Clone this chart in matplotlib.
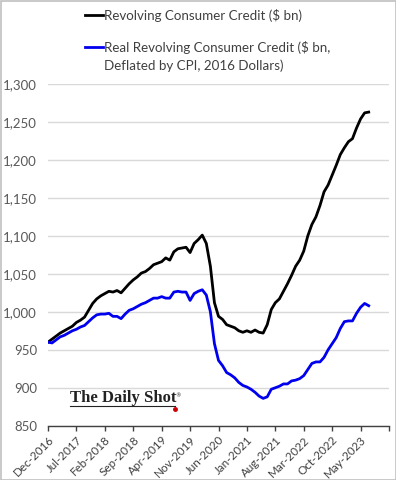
import matplotlib
matplotlib.use("Agg")
import matplotlib.pyplot as plt
import numpy as np
from matplotlib.patches import Rectangle
from matplotlib.lines import Line2D
from matplotlib.transforms import ScaledTranslation

# Monthly data, Dec-2016 .. Jul-2023
start_year, start_month = 2016, 12
nominal = [960, 964, 968, 972, 975, 978, 981, 986, 989, 993,
           1002, 1011, 1017, 1021, 1024, 1027, 1026, 1028, 1025, 1031,
           1037, 1042, 1046, 1051, 1053, 1057, 1062, 1064, 1066, 1071,
           1068, 1079, 1083, 1084, 1085, 1078, 1090, 1095, 1101, 1090,
           1060, 1012, 994, 990, 983, 981, 979, 975, 973, 975,
           973, 976, 973, 972, 983, 1003, 1012, 1017, 1027, 1037,
           1048, 1060, 1068, 1080, 1100, 1115, 1125, 1140, 1158, 1167,
           1180, 1193, 1207, 1216, 1224, 1228, 1242, 1254, 1262, 1263]
real = [960, 959, 963, 967, 969, 972, 975, 977, 980, 982,
        987, 992, 996, 997, 997, 998, 994, 994, 991, 997,
        1002, 1004, 1007, 1010, 1012, 1015, 1018, 1018, 1020, 1018,
        1018, 1026, 1027, 1026, 1026, 1015, 1024, 1027, 1029, 1022,
        1000, 958, 936, 929, 920, 917, 913, 907, 903, 901,
        898, 894, 889, 886, 888, 898, 900, 902, 905, 905,
        909, 910, 912, 916, 924, 932, 934, 934, 940, 950,
        958, 966, 978, 987, 988, 988, 998, 1006, 1011, 1008]
tick_labels = ["Dec-2016", "Jul-2017", "Feb-2018", "Sep-2018", "Apr-2019",
               "Nov-2019", "Jun-2020", "Jan-2021", "Aug-2021", "Mar-2022",
               "Oct-2022", "May-2023", ""]
y_ticks = [850, 900, 950, 1000, 1050, 1100, 1150, 1200, 1250, 1300]
label_nominal = "Revolving Consumer Credit ($ bn)"
label_real_1 = "Real Revolving Consumer Credit ($ bn,"
label_real_2 = "Deflated by CPI, 2016 Dollars)"

months = np.arange(len(nominal))
W, H = 396, 480

def fx(px):
    return px / W

def fy(py):
    return 1 - py / H

fig = plt.figure(figsize=(W / 100, H / 100), dpi=100)
ax = fig.add_axes([fx(48), fy(425.7), (389 - 48) / W, (425.7 - 84) / H])

black = "black"
blue = "#0000EE"
ax.plot(months, nominal, color=black, lw=2.0)
ax.plot(months, real, color=blue, lw=2.0)

ax.set_xlim(0, 84)
ax.set_ylim(850, 1300)
ax.set_yticks(y_ticks)
ax.set_yticklabels([f"{v:,}" for v in y_ticks], fontsize=9.5, color="#595959",
                   family="Lato")
ax.set_xticks(np.arange(0, 85, 7))
ax.set_xticklabels(tick_labels, rotation=45, ha="right", va="top",
                   rotation_mode="anchor", fontsize=8.4, color="#404040",
                   family="Lato")
for lab in ax.get_xticklabels():
    lab.set_transform(lab.get_transform() + ScaledTranslation(0.03, 0, fig.dpi_scale_trans))
ax.tick_params(axis="y", length=0, pad=8)
ax.tick_params(axis="x", length=3.6, width=1, color="#404040", pad=2.5)
ax.grid(axis="y", color="#d9d9d9", lw=1)
ax.set_axisbelow(True)
for s in ["top", "right", "left"]:
    ax.spines[s].set_visible(False)
ax.spines["bottom"].set_color("#404040")
ax.spines["bottom"].set_linewidth(1)

# Legend drawn by hand
legend_color = "#404040"
fig.add_artist(Line2D([fx(85), fx(103)], [fy(15), fy(15)], color=black, lw=2,
                      transform=fig.transFigure))
fig.add_artist(Line2D([fx(85), fx(103)], [fy(47), fy(47)], color=blue, lw=2,
                      transform=fig.transFigure))
fig.text(fx(104), fy(15), label_nominal, family="Lato", fontsize=9.6,
         color=legend_color, va="center", ha="left")
fig.text(fx(104), fy(47), label_real_1, family="Lato", fontsize=9.6,
         color=legend_color, va="center", ha="left")
fig.text(fx(104), fy(66), label_real_2, family="Lato", fontsize=9.6,
         color=legend_color, va="center", ha="left")

# Watermark
fig.text(fx(70), fy(402), "The Daily Shot", family="Liberation Serif",
         fontweight="bold", fontsize=12, color="#222222", va="baseline", ha="left")
fig.text(fx(175.5), fy(396), "®", family="DejaVu Sans", fontsize=4,
         color="#222222", va="center", ha="left")
fig.add_artist(Line2D([fx(70), fx(175)], [fy(405.5), fy(405.5)],
                      transform=fig.transFigure, color="#222222", lw=0.8))
fig.add_artist(Line2D([fx(175)], [fy(408.5)], transform=fig.transFigure,
                      marker="o", ms=2.5, color="#cc0000", lw=0))

# Outer frame
fig.add_artist(Rectangle((0.5 / W, 0.5 / H), 1 - 1 / W, 1 - 1 / H,
                         transform=fig.transFigure, fill=False,
                         edgecolor="#c0c0c0", lw=1.2))

fig.savefig("out.png", dpi=100)
